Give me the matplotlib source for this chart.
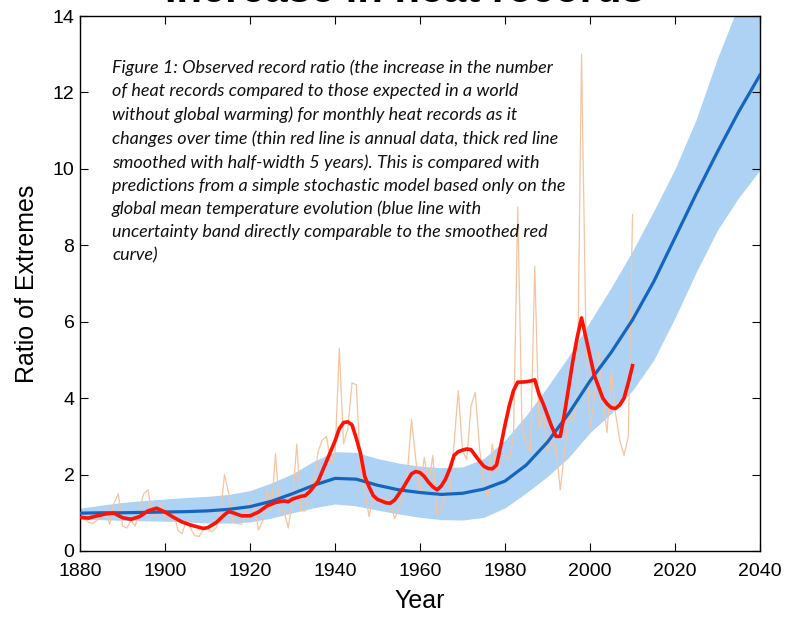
import numpy as np
import matplotlib
matplotlib.use("Agg")
import matplotlib.pyplot as plt

# Model prediction (blue line + uncertainty band), 5-year steps
model_years = list(range(1880, 2041, 5))
model_ratio = [0.99, 1.00, 1.00, 1.01, 1.02, 1.03, 1.05, 1.09, 1.16, 1.30,
               1.50, 1.72, 1.90, 1.88, 1.72, 1.60, 1.53, 1.48, 1.51, 1.62,
               1.83, 2.25, 2.85, 3.60, 4.45, 5.20, 6.05, 7.05, 8.20, 9.35,
               10.45, 11.50, 12.46]
band_upper = [1.12, 1.20, 1.27, 1.32, 1.36, 1.40, 1.43, 1.48, 1.58, 1.78,
              2.02, 2.35, 2.60, 2.58, 2.42, 2.30, 2.22, 2.18, 2.20, 2.42,
              2.90, 3.55, 4.30, 5.10, 6.00, 6.90, 7.85, 8.90, 10.00, 11.30,
              12.90, 14.30, 15.50]
band_lower = [0.84, 0.82, 0.80, 0.79, 0.78, 0.76, 0.73, 0.73, 0.76, 0.86,
              1.00, 1.13, 1.23, 1.18, 1.07, 0.97, 0.88, 0.82, 0.81, 0.88,
              1.13, 1.52, 1.95, 2.45, 3.10, 3.60, 4.20, 5.00, 6.10, 7.30,
              8.40, 9.25, 9.97]

# Observed annual record ratio, 1880-2010
annual_years = list(range(1880, 2011))
annual_ratio = [
    0.95, 0.85, 0.75, 0.72, 0.80, 0.95, 1.00, 0.70, 1.25, 1.50,  # 1880s
    0.65, 0.60, 0.80, 0.65, 1.10, 1.50, 1.60, 0.90, 0.95, 1.25,  # 1890s
    0.90, 1.00, 1.05, 0.55, 0.45, 0.80, 0.60, 0.40, 0.38, 0.55,  # 1900s
    0.60, 0.50, 0.60, 0.95, 2.00, 1.50, 0.75, 0.72, 0.70, 1.00,  # 1910s
    1.30, 1.15, 0.55, 0.80, 1.60, 1.05, 2.55, 1.05, 1.05, 0.60,  # 1920s
    1.35, 2.80, 1.05, 1.05, 1.80, 1.70, 2.60, 2.90, 3.00, 2.30,  # 1930s
    2.50, 5.30, 2.80, 3.20, 4.40, 4.35, 2.20, 1.60, 0.90, 1.45,  # 1940s
    1.35, 1.40, 1.35, 1.30, 0.85, 1.10, 1.45, 2.00, 3.45, 2.40,  # 1950s
    1.50, 2.45, 1.70, 2.50, 0.95, 1.10, 1.50, 1.50, 2.80, 4.20,  # 1960s
    2.60, 2.40, 3.80, 4.15, 2.70, 1.70, 1.40, 2.80, 2.10, 2.50,  # 1970s
    2.50, 2.40, 3.00, 9.00, 3.20, 2.80, 2.60, 7.45, 3.20, 3.60,  # 1980s
    2.60, 2.90, 2.70, 1.60, 2.60, 3.60, 3.40, 3.90, 13.00, 5.80,  # 1990s
    3.20, 4.00, 5.20, 4.00, 3.10, 4.70, 3.60, 2.90, 2.50, 3.00,  # 2000s
    8.80,
]

# Observed ratio smoothed (half-width 5 years)
smooth_years = [1880, 1882, 1884, 1886, 1888, 1890, 1892, 1894, 1896, 1898,
                1900, 1902, 1904, 1906, 1908, 1909, 1910, 1912, 1914, 1915,
                1916, 1918, 1920, 1922, 1924, 1926, 1928, 1929, 1930, 1932,
                1933, 1934, 1936, 1938, 1940, 1941, 1942, 1943, 1944, 1945,
                1946, 1947, 1948, 1949, 1950, 1952, 1953, 1954, 1956, 1958,
                1959, 1960, 1961, 1962, 1963, 1964, 1965, 1966, 1967, 1968,
                1969, 1970, 1971, 1972, 1973, 1974, 1975, 1976, 1977, 1978,
                1979, 1980, 1981, 1982, 1983, 1984, 1985, 1986, 1987, 1988,
                1989, 1990, 1991, 1992, 1993, 1994, 1995, 1996, 1997, 1998,
                1999, 2000, 2001, 2002, 2003, 2004, 2005, 2006, 2007, 2008,
                2009, 2010]
smooth_ratio = [0.88, 0.86, 0.92, 0.97, 0.99, 0.87, 0.83, 0.90, 1.05, 1.12,
                1.02, 0.88, 0.76, 0.68, 0.62, 0.59, 0.61, 0.74, 0.95, 1.03,
                1.00, 0.92, 0.92, 1.02, 1.18, 1.27, 1.31, 1.29, 1.36, 1.43,
                1.45, 1.55, 1.82, 2.35, 2.88, 3.20, 3.36, 3.38, 3.30, 2.95,
                2.55, 1.95, 1.68, 1.45, 1.35, 1.26, 1.25, 1.33, 1.65, 2.02,
                2.08, 2.05, 1.95, 1.80, 1.68, 1.60, 1.70, 1.88, 2.15, 2.50,
                2.60, 2.64, 2.67, 2.65, 2.50, 2.35, 2.22, 2.16, 2.15, 2.25,
                2.75, 3.30, 3.80, 4.20, 4.42, 4.42, 4.43, 4.45, 4.48, 4.10,
                3.85, 3.55, 3.25, 3.00, 3.00, 3.60, 4.30, 5.00, 5.60, 6.10,
                5.60, 5.10, 4.60, 4.30, 4.00, 3.85, 3.75, 3.73, 3.82, 4.00,
                4.40, 4.85]

caption = ("Figure 1: Observed record ratio (the increase in the number\n"
           "of heat records compared to those expected in a world\n"
           "without global warming) for monthly heat records as it\n"
           "changes over time (thin red line is annual data, thick red line\n"
           "smoothed with half-width 5 years). This is compared with\n"
           "predictions from a simple stochastic model based only on the\n"
           "global mean temperature evolution (blue line with\n"
           "uncertainty band directly comparable to the smoothed red\n"
           "curve)")

plt.rcParams["font.family"] = ["Liberation Sans", "DejaVu Sans"]

fig = plt.figure(figsize=(7.94, 6.17), dpi=100)
ax = fig.add_axes([0.1008, 0.107, 0.8564, 0.867])

ax.fill_between(model_years, band_lower, band_upper, color="#aed2f3",
                linewidth=0, zorder=1)
ax.plot(annual_years, annual_ratio, color="#f5c4a0", linewidth=0.9, zorder=2)
ax.plot(model_years, model_ratio, color="#1565c0", linewidth=2.3, zorder=3)
ax.plot(smooth_years, smooth_ratio, color="#ff1205", linewidth=2.6, zorder=4)

ax.set_xlim(1880, 2040)
ax.set_ylim(0, 14)
ax.set_xticks(range(1880, 2041, 20))
ax.set_yticks(range(0, 15, 2))
ax.tick_params(direction="in", length=6, width=0.8, top=True, right=True,
               labelsize=14)
ax.tick_params(axis="x", pad=9)
ax.tick_params(axis="y", pad=4)
for s in ax.spines.values():
    s.set_linewidth(1.0)

ax.set_xlabel("Year", fontsize=18, labelpad=6)
ax.set_ylabel("Ratio of Extremes", fontsize=18, labelpad=10)

ax.text(0.047, 0.918, caption, transform=ax.transAxes, ha="left", va="top",
        fontsize=13, style="italic", family=["Lato", "DejaVu Sans"],
        linespacing=1.53, color="#111111", zorder=5)

fig.text(0.51, 0.996, "Increase in heat records", ha="center",
         va="baseline", fontsize=30, fontweight="bold")

fig.savefig("out.png", dpi=100)
